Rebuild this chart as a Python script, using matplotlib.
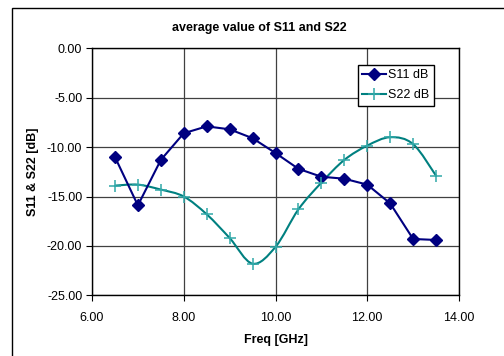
import matplotlib.pyplot as plt
from matplotlib.path import Path
from matplotlib.patches import PathPatch, Rectangle
import numpy as np

plt.rcParams['font.family'] = ['Liberation Sans', 'DejaVu Sans']

freq = [6.5, 7.0, 7.5, 8.0, 8.5, 9.0, 9.5, 10.0, 10.5, 11.0, 11.5, 12.0, 12.5, 13.0, 13.5]
s11 = [-11.0, -15.9, -11.3, -8.6, -7.9, -8.2, -9.1, -10.6, -12.2, -13.0, -13.2, -13.8, -15.7, -19.3, -19.4]
s22 = [-13.9, -13.8, -14.3, -15.0, -16.8, -19.2, -21.8, -20.1, -16.3, -13.6, -11.3, -9.85, -9.0, -9.7, -12.9]
xticks = [6, 8, 10, 12, 14]
yticks = [0, -5, -10, -15, -20, -25]


def smooth_path(x, y):
    # Bezier curve through the points, like the spreadsheet "smoothed line"
    x = np.asarray(x, float)
    y = np.asarray(y, float)
    n = len(x)
    verts = [(x[0], y[0])]
    codes = [Path.MOVETO]
    for i in range(n - 1):
        i0 = max(i - 1, 0)
        i3 = min(i + 2, n - 1)
        c1 = (x[i] + (x[i + 1] - x[i0]) / 6, y[i] + (y[i + 1] - y[i0]) / 6)
        c2 = (x[i + 1] - (x[i3] - x[i]) / 6, y[i + 1] - (y[i3] - y[i]) / 6)
        verts += [c1, c2, (x[i + 1], y[i + 1])]
        codes += [Path.CURVE4] * 3
    return Path(verts, codes)


fig = plt.figure(figsize=(5.04, 3.56), dpi=100)
ax = fig.add_axes([92 / 504, 1 - 295.3 / 356, 367 / 504, 247 / 356])

# outer chart frame
fig.patches.append(Rectangle((12 / 504, -0.5), 2, 1.5 - 8 / 356, transform=fig.transFigure,
                             fill=False, edgecolor='black', linewidth=1.0))

ax.grid(True, color='#404040', linewidth=0.9)
ax.set_axisbelow(True)

ax.plot(freq, s11, color='#000080', linewidth=1.5, marker='D', markersize=6,
        label='S11 dB')
ax.add_patch(PathPatch(smooth_path(freq, s22), fill=False, edgecolor='#008080', linewidth=1.5))
ax.plot(freq, s22, linestyle='none', marker='+', markersize=8, markeredgewidth=1.1,
        color='#30a8a8')
ax.plot([], [], color='#008080', linewidth=1.5, marker='+', markersize=8,
        markeredgecolor='#30a8a8', markeredgewidth=1.1, label='S22 dB')

ax.set_xlim(6, 14)
ax.set_ylim(-25, 0)
ax.set_xticks(xticks)
ax.set_xticklabels(['%.2f' % v for v in xticks])
ax.set_yticks(yticks)
ax.set_yticklabels(['%.2f' % v for v in yticks])
ax.tick_params(direction='out', length=4, width=0.8, labelsize=9, pad=3)
ax.tick_params(axis='x', pad=8)
for sp in ax.spines.values():
    sp.set_linewidth(1.0)
    sp.set_color('black')

fig.text(259 / 504, 1 - 28 / 356, 'average value of S11 and S22', ha='center', va='center',
         fontsize=9, fontweight='bold')
fig.text(276 / 504, 1 - 340 / 356, 'Freq [GHz]', ha='center', va='center',
         fontsize=9, fontweight='bold')
fig.text(33 / 504, 1 - 172 / 356, 'S11 & S22 [dB]', ha='center', va='center',
         fontsize=9, fontweight='bold', rotation=90)

leg = ax.legend(loc='upper left', bbox_to_anchor=((358 - 92) / 367, (295.3 - 65) / 247),
                fontsize=9, frameon=True, fancybox=False, edgecolor='black',
                framealpha=1, borderpad=0.35, labelspacing=0.65, handlelength=1.9,
                handletextpad=0.15, borderaxespad=0)
leg.get_frame().set_linewidth(1.0)

fig.savefig('out.png', dpi=100)
